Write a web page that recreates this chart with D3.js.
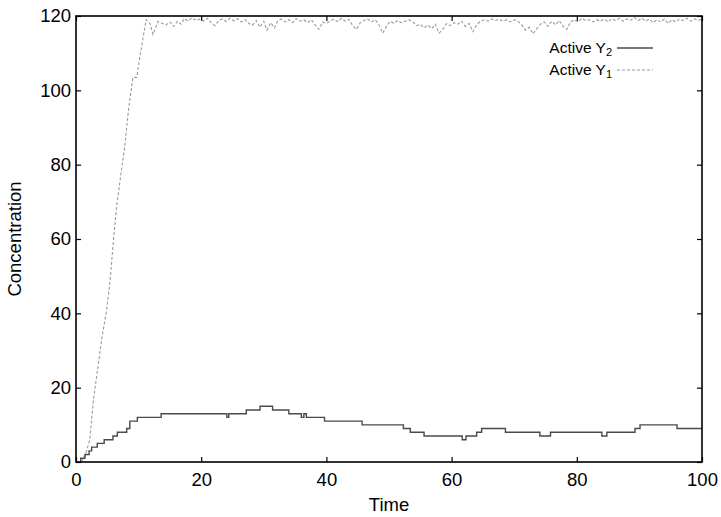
<!DOCTYPE html>
<html>
<head>
<meta charset="utf-8">
<script src="https://cdn.jsdelivr.net/npm/d3@7"></script>
<style>
  body { margin: 0; background: #fff; }
  svg text { font-family: "Liberation Sans", Arial, Helvetica, sans-serif; }
</style>
</head>
<body>
<svg id="chart" width="721" height="517"></svg>
<script>
// tick values
var xTicks = [0, 20, 40, 60, 80, 100];
var yTicks = [0, 20, 40, 60, 80, 100, 120];

// Active Y2 : stochastic step trajectory [time, molecules]
var y2Data = [
  [0.75, 0], [0.75, 1], [1.44, 2], [2.1, 3], [2.5, 4], [3.4, 5], [4.5, 6],
  [5.9, 7], [6.6, 8], [8.1, 9], [8.6, 11], [9.8, 12], [13.6, 13], [24.1, 12],
  [24.4, 13], [27.2, 14], [29.4, 15], [31.4, 14], [34.0, 13], [36.0, 12],
  [36.4, 13], [36.8, 12], [39.7, 11], [45.7, 10], [52.3, 9], [53.4, 8],
  [55.6, 7], [61.7, 6], [62.3, 7], [64.0, 8], [64.8, 9], [68.6, 8], [74.1, 7],
  [75.8, 8], [84.0, 7], [84.8, 8], [89.3, 9], [90.1, 10], [96.0, 9], [100, 9]
];

// Active Y1 : noisy trajectory [time, molecules]
var y1Data = [
  [0.9, 0], [1.7, 3], [2.2, 6], [2.8, 17], [3.3, 23], [4.1, 33], [4.9, 41],
  [5.4, 48], [6.0, 60], [6.5, 69], [7.3, 79], [7.8, 85], [8.4, 95], [9.1, 103.5],
  [9.7, 103.5], [10.2, 109], [11.2, 119], [11.8, 118], [12.3, 115], [13.1, 118.5],
  [13.8, 118], [14.4, 117.6], [15.0, 118.4], [15.6, 117.2], [16.2, 118.6], [16.8, 117.8],
  [17.3, 119.3], [17.9, 118.6], [18.5, 119.5], [19.2, 118.8], [19.8, 119.2], [20.4, 118.6],
  [21.0, 119.4], [21.6, 118.2], [22.2, 117.4], [22.8, 118.8], [23.4, 119.2], [24.0, 118.5],
  [24.6, 119.4], [25.2, 118.7], [25.8, 119.3], [26.4, 118.4], [27.0, 119.0], [27.6, 118.0],
  [28.2, 117.5], [28.8, 118.8], [29.4, 117.0], [30.0, 118.6], [30.5, 116.2], [31.1, 118.2],
  [31.7, 116.8], [32.2, 118.6], [32.8, 119.2], [33.4, 118.4], [34.0, 119.0], [34.6, 118.2],
  [35.2, 119.3], [35.8, 118.6], [36.4, 119.0], [37.0, 118.2], [37.6, 119.0], [38.2, 117.6],
  [38.8, 116.4], [39.4, 118.4], [40.0, 118.0], [40.6, 118.6], [41.2, 119.2], [41.8, 118.5],
  [42.4, 119.4], [43.0, 118.6], [43.6, 119.1], [44.2, 117.4], [44.8, 116.4], [45.4, 118.2],
  [46.0, 118.8], [46.6, 119.2], [47.2, 118.4], [47.8, 119.0], [48.4, 117.6], [49.0, 115.4],
  [49.6, 117.2], [50.2, 118.6], [50.8, 118.0], [51.4, 118.8], [52.0, 118.2], [52.6, 118.6],
  [53.2, 119.0], [53.8, 118.4], [54.4, 117.4], [55.0, 117.8], [55.6, 116.8], [56.2, 117.6],
  [56.8, 116.6], [57.4, 117.8], [58.0, 115.4], [58.6, 116.4], [59.2, 118.0], [59.8, 117.4],
  [60.4, 118.2], [61.0, 117.8], [61.6, 118.6], [62.2, 117.2], [62.8, 118.0], [63.4, 115.8],
  [64.0, 117.6], [64.6, 118.6], [65.2, 119.0], [65.8, 118.6], [66.4, 119.2], [67.0, 118.8],
  [67.6, 119.2], [68.2, 118.6], [68.8, 119.0], [69.4, 118.4], [70.0, 119.0], [70.6, 118.6],
  [71.2, 117.6], [71.8, 116.2], [72.4, 117.0], [73.0, 115.2], [73.6, 116.6], [74.2, 117.8],
  [74.8, 118.4], [75.4, 117.2], [76.0, 118.6], [76.6, 117.6], [77.2, 118.8], [77.8, 117.2],
  [78.4, 116.4], [79.0, 118.4], [79.6, 119.0], [80.2, 118.4], [80.8, 119.4], [81.4, 118.8],
  [82.0, 119.0], [82.6, 118.4], [83.2, 119.0], [83.8, 118.6], [84.4, 119.2], [85.0, 118.4],
  [85.6, 119.3], [86.2, 118.8], [86.8, 119.4], [87.4, 118.6], [88.0, 119.2], [88.6, 118.8],
  [89.2, 119.6], [89.8, 118.8], [90.4, 119.4], [91.0, 118.6], [91.6, 119.2], [92.2, 118.2],
  [92.8, 119.0], [93.4, 118.4], [94.0, 119.2], [94.6, 118.0], [95.2, 119.0], [95.8, 118.4],
  [96.4, 119.2], [97.0, 118.8], [97.6, 119.4], [98.2, 118.6], [98.8, 119.2], [99.4, 118.8],
  [100.0, 119.2]
];

var seriesLabels = ["Active Y", "Active Y"];
var seriesSubs = ["2", "1"];

var margin = {top: 16, right: 19, bottom: 55, left: 76};
var width = 721 - margin.left - margin.right;
var height = 517 - margin.top - margin.bottom;

var svg = d3.select("#chart");
var g = svg.append("g").attr("transform", "translate(" + margin.left + "," + margin.top + ")");

var x = d3.scaleLinear().domain([0, 100]).range([0, width]);
var y = d3.scaleLinear().domain([0, 120]).range([height, 0]);

// axes, ticks pointing inward, mirrored on top and right
var xAxis = g.append("g")
  .attr("transform", "translate(0," + height + ")")
  .call(d3.axisBottom(x).tickValues(xTicks).tickSizeInner(-5).tickSizeOuter(0).tickPadding(11));
var yAxis = g.append("g")
  .call(d3.axisLeft(y).tickValues(yTicks).tickSizeInner(-5).tickSizeOuter(0).tickPadding(5));
var xTop = g.append("g")
  .call(d3.axisTop(x).tickValues(xTicks).tickSizeInner(-5).tickSizeOuter(0).tickFormat(""));
var yRight = g.append("g")
  .attr("transform", "translate(" + width + ",0)")
  .call(d3.axisRight(y).tickValues(yTicks).tickSizeInner(-5).tickSizeOuter(0).tickFormat(""));

[xAxis, yAxis, xTop, yRight].forEach(function(a) {
  a.select(".domain").remove();
  a.selectAll(".tick line").attr("stroke", "#000").attr("stroke-width", 1.2);
  a.selectAll(".tick text").attr("fill", "#000").style("font-size", "18.5px")
   .style("font-family", "'Liberation Sans', Arial, sans-serif");
});

// lines
var line = d3.line().x(function(d) { return x(d[0]); }).y(function(d) { return y(d[1]); });

g.append("path")
  .datum(y1Data)
  .attr("fill", "none")
  .attr("stroke", "#9a9a9a")
  .attr("stroke-width", 1.1)
  .attr("stroke-dasharray", "3,2")
  .attr("d", line);

g.append("path")
  .datum(y2Data)
  .attr("fill", "none")
  .attr("stroke", "#4a4a4a")
  .attr("stroke-width", 1.4)
  .attr("d", line.curve(d3.curveStepAfter));

// frame
g.append("rect")
  .attr("width", width).attr("height", height)
  .attr("fill", "none").attr("stroke", "#000").attr("stroke-width", 1.6);

// axis titles
svg.append("text")
  .attr("x", margin.left + width / 2).attr("y", 511)
  .attr("text-anchor", "middle").style("font-size", "18.5px")
  .text("Time");
svg.append("text")
  .attr("transform", "translate(21," + (margin.top + height / 2) + ") rotate(-90)")
  .attr("text-anchor", "middle").style("font-size", "18.5px")
  .text("Concentration");

// legend
var legend = svg.append("g");
var legendStyles = [
  {stroke: "#4a4a4a", dash: null, w: 1.4},
  {stroke: "#9a9a9a", dash: "3,2", w: 1.1}
];
seriesLabels.forEach(function(lbl, i) {
  var by = 53 + i * 22;
  var t = legend.append("text")
    .attr("x", 612).attr("y", by)
    .attr("text-anchor", "end").style("font-size", "15.5px");
  t.append("tspan").text(lbl);
  t.append("tspan").attr("dy", 3).style("font-size", "11px").text(seriesSubs[i]);
  legend.append("line")
    .attr("x1", 617).attr("x2", 653)
    .attr("y1", by - 5).attr("y2", by - 5)
    .attr("stroke", legendStyles[i].stroke)
    .attr("stroke-width", legendStyles[i].w)
    .attr("stroke-dasharray", legendStyles[i].dash);
});
</script>
</body>
</html>
